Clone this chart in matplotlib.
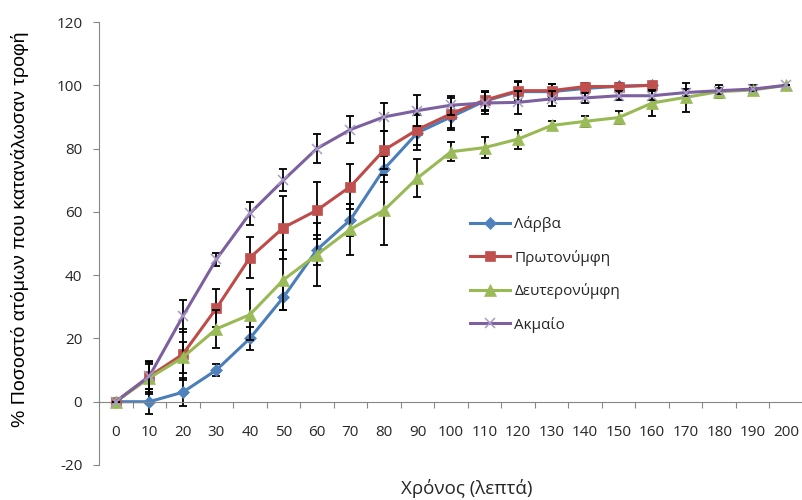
import numpy as np
import matplotlib
matplotlib.use("Agg")
import matplotlib.pyplot as plt
from matplotlib.ticker import FixedLocator

# data
times = [0, 10, 20, 30, 40, 50, 60, 70, 80, 90, 100, 110, 120, 130, 140, 150, 160, 170, 180, 190, 200]

larva = [0, 0, 3, 10, 20, 33, 48, 57.5, 73.5, 85, 90, 95, 98, 98, 99, 99.7, 100]
larva_err = [0, 4, 4.5, 2, 3.7, 4, 4.7, 5, 4.2, 5.5, 3.5, 3, 3, 2.5, 1.5, 1, 0]

proto = [0, 8, 15, 29.5, 45.5, 55, 60.5, 68, 79.5, 86, 91, 95.3, 98.3, 98.3, 99.6, 99.6, 100]
proto_err = [0, 5, 8, 6, 6.5, 10, 9, 7, 6, 5, 5, 3, 3, 2, 1, 1, 0.5]

deuto = [0, 7.5, 14, 23, 27.5, 38.5, 46.5, 54.5, 60.5, 70.7, 79, 80.3, 83, 87.3, 88.6, 89.8,
         94.4, 96.2, 98, 98.5, 100]
deuto_err = [0, 5, 5, 6, 8, 9.5, 10, 8, 11, 6, 3, 3.2, 3, 1.5, 1.7, 2, 4, 4.5, 2, 1.5, 0]

adult = [0, 8, 27, 45, 59.5, 70, 80, 86, 90, 92, 93.7, 94.4, 94.6, 95.7, 96, 96.7, 96.7,
         97.7, 98.3, 98.8, 100]
adult_err = [0, 4, 5, 2, 3.5, 3.5, 4.5, 4.3, 4.3, 5, 3, 3.5, 3.7, 2.4, 1.5, 1.5, 1.5, 1, 1, 0.5, 0]

names = ["Λάρβα", "Πρωτονύμφη", "Δευτερονύμφη", "Ακμαίο"]

txt_font = ["Open Sans", "DejaVu Sans"]
plt.rcParams["font.family"] = txt_font
plt.rcParams["axes.unicode_minus"] = False

fig = plt.figure(figsize=(8.03, 5.0), dpi=100)
ax = fig.add_axes([99 / 803, 35 / 500, 704 / 803, 443 / 500])

series = [
    (larva, larva_err, "#4A7EBB", "#4F81BD", "D", 6.5),
    (proto, proto_err, "#BE4B48", "#C0504D", "s", 7.5),
    (deuto, deuto_err, "#98B954", "#9BBB59", "^", 8),
    (adult, adult_err, "#7D60A0", "#A99BC8", "x", 7.5),
]

for i, (vals, err, lc, mc, mk, ms) in enumerate(series):
    xs = np.arange(len(vals))
    ax.errorbar(xs, vals, yerr=err, fmt="none", ecolor="black", elinewidth=1.3,
                capsize=3, capthick=1.3, zorder=2 + i)
    ax.plot(xs, vals, color=lc, lw=2.2, marker=mk, markersize=ms,
            markerfacecolor=mc, markeredgecolor=mc, markeredgewidth=1.1 if mk == "x" else 0.5,
            label=names[i], zorder=2.5 + i)

ax.set_xlim(-0.5, 20.5)
ax.set_ylim(-20, 120)
ax.set_yticks(np.arange(-20, 121, 20))
ax.set_xticks(np.arange(len(times)))
ax.set_xticklabels([str(t) for t in times])
ax.xaxis.set_minor_locator(FixedLocator(np.arange(0.5, 21, 1)))

for s in ["top", "right"]:
    ax.spines[s].set_visible(False)
ax.spines["bottom"].set_position(("data", 0))
for s in ["left", "bottom"]:
    ax.spines[s].set_color("#868686")
    ax.spines[s].set_linewidth(0.8)

ax.tick_params(axis="x", which="major", length=0, pad=17, labelsize=11, labelcolor="#262626")
ax.tick_params(axis="x", which="minor", length=4, width=0.8, color="#868686", direction="out")
ax.tick_params(axis="y", length=4, width=0.8, color="#868686", direction="out", pad=8,
               labelsize=11, labelcolor="#262626")

fig.text(20 / 803, 1 - 229 / 500, "% Ποσοστό ατόμων που κατανάλωσαν τροφή", rotation=90,
         ha="center", va="center", fontsize=14, family=["Liberation Sans", "DejaVu Sans"])
fig.text(467 / 803, 1 - 489 / 500, "Χρόνος (λεπτά)", ha="center", va="center", fontsize=13.5,
         color="#262626")

leg = ax.legend(loc="upper left", bbox_to_anchor=(470 / 803, 1 - 216 / 500),
                bbox_transform=fig.transFigure, frameon=False, fontsize=11,
                handlelength=2.6, handletextpad=0.3, labelspacing=1.15,
                borderpad=0, borderaxespad=0)
for t in leg.get_texts():
    t.set_color("#262626")

fig.savefig("out.png", dpi=100)
